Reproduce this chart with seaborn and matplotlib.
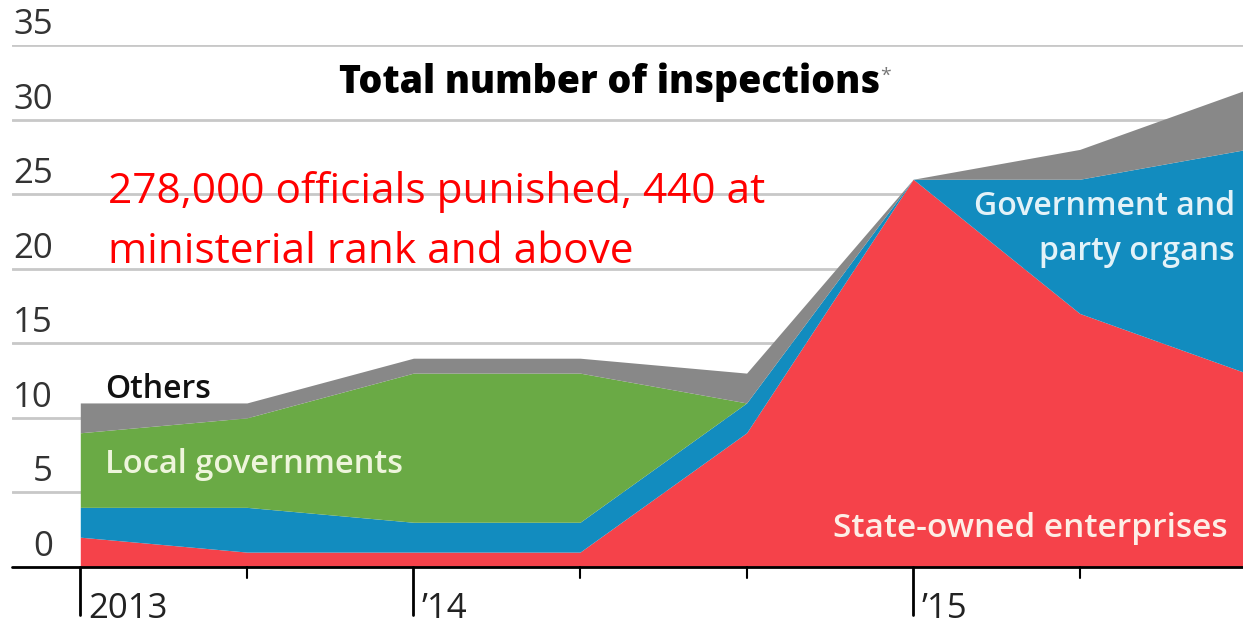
import numpy as np
import pandas as pd
import matplotlib
matplotlib.use("Agg")
import matplotlib.pyplot as plt
import matplotlib.transforms as mtransforms
import seaborn as sns

# ========== Data ==========
periods = ["2013", "2013b", "'14", "'14b", "'14c", "'15", "'15b", "'15c"]
soe = [2, 1, 1, 1, 9, 26, 17, 13]          # State-owned enterprises
gov_party = [2, 3, 2, 2, 2, 0, 9, 15]      # Government and party organs
local_gov = [5, 6, 10, 10, 0, 0, 0, 0]     # Local governments
others = [2, 1, 1, 1, 2, 0, 2, 4]          # Others

y_ticks = [0, 5, 10, 15, 20, 25, 30, 35]
major_pos = [0, 2, 5]
major_labels = ["2013", "\u201914", "\u201915"]

colors = ["#f5424a", "#128cbf", "#6aaa45", "#888888"]

df = pd.DataFrame({"soe": soe, "gov": gov_party, "local": local_gov, "others": others})
x = np.arange(len(df))

# ========== Figure ==========
sns.set_theme(style="white")
plt.rcParams["font.family"] = ["Open Sans", "DejaVu Sans"]

fig = plt.figure(figsize=(12.43, 6.26), dpi=100)
ax = fig.add_axes([12 / 1243, 59 / 626, (1243 - 12) / 1243, 522 / 626])

ax.stackplot(x, df["soe"], df["gov"], df["local"], df["others"],
             colors=colors, linewidth=0, zorder=2)

ax.set_xlim(-0.41, 6.98)
ax.set_ylim(0, 35)

# gridlines
for v in y_ticks[1:]:
    ax.axhline(v, color="#c8c8c8", lw=2, zorder=1)
ax.axhline(0, color="black", lw=2, zorder=3, clip_on=False)

ax.set_xticks([])
ax.set_yticks([])
for s in ax.spines.values():
    s.set_visible(False)

# y tick labels sit above the gridlines, right aligned
ytrans = mtransforms.blended_transform_factory(ax.transAxes, ax.transData)
for v in y_ticks:
    ax.text(41 / 1231, v + 0.2, str(v), transform=ytrans, ha="right", va="bottom",
            fontsize=25, color="#333333")

# x ticks: short for every period, long for years
for i in range(len(x)):
    long_tick = i in major_pos
    ax.plot([i, i], [0, -(48 if long_tick else 11) / 14.914], color="black",
            lw=2 if long_tick else 1.5, clip_on=False, zorder=3)
for p, lab in zip(major_pos, major_labels):
    ax.text(p + 0.05, -1.7, lab, ha="left", va="top", fontsize=25, color="#222222")

# title
ax.text(3.18, 31.8, "Total number of inspections", ha="center", va="baseline",
        fontsize=27, fontweight="heavy", color="black")
ax.text(4.80, 32.6, "*", ha="left", va="baseline", fontsize=14, color="#777777")

# red annotation
ax.text(0.168, 24.4, "278,000 officials punished, 440 at", ha="left", va="baseline",
        fontsize=30.5, color="#ff0000")
ax.text(0.168, 20.4, "ministerial rank and above", ha="left", va="baseline",
        fontsize=30.5, color="#ff0000")

# area labels
ax.text(0.15, 11.3, "Others", ha="left", va="baseline", fontsize=23,
        fontweight="semibold", color="#111111")
ax.text(0.15, 6.3, "Local governments", ha="left", va="baseline", fontsize=23.5,
        fontweight="semibold", color="#eef5dc")
ax.text(6.93, 23.6, "Government and", ha="right", va="baseline", fontsize=23,
        fontweight="semibold", color="#e3f2f8")
ax.text(6.93, 20.6, "party organs", ha="right", va="baseline", fontsize=23,
        fontweight="semibold", color="#e3f2f8")
ax.text(6.89, 2.0, "State-owned enterprises", ha="right", va="baseline", fontsize=24,
        fontweight="semibold", color="#fdeee6")

fig.savefig("out.png", dpi=100)
plt.close(fig)
